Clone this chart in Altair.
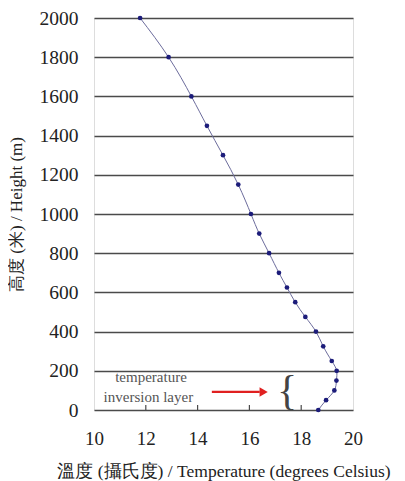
import altair as alt
import pandas as pd

temps = [18.66, 18.96, 19.28, 19.36, 19.37, 19.18, 18.85, 18.57, 18.16, 17.77, 17.45,
         17.14, 16.76, 16.38, 16.06, 15.57, 14.98, 14.36, 13.76, 12.88, 11.78]
heights = [0, 50, 100, 150, 200, 250, 325, 400, 475, 550, 625,
           700, 800, 900, 1000, 1150, 1300, 1450, 1600, 1800, 2000]

x_ticks = [10, 12, 14, 16, 18, 20]
y_ticks = [0, 200, 400, 600, 800, 1000, 1200, 1400, 1600, 1800, 2000]

label_lines = ["temperature", "inversion  layer"]
label_x = [12.2, 12.1]
label_y = [168, 66]

arrow_x = [14.55]
arrow_x2 = [16.4]
arrow_head_x = [16.55]
arrow_y = [92]
brace_x = [17.45]
brace_y = [97]

x_title = "溫度 (攝氏度) / Temperature (degrees Celsius)"
y_title = "高度 (米) / Height (m)"

FONT = "Liberation Serif"
GRID = "#4a4a4a"

df = pd.DataFrame({"t": temps, "h": heights})

xs = alt.Scale(domain=[10, 20], nice=False)
ys = alt.Scale(domain=[0, 2000], nice=False)

x_axis = alt.Axis(values=x_ticks, grid=False, ticks=False, domain=False,
                  format="d", labelOverlap=False, labelFlush=False,
                  labelFont=FONT, labelFontSize=19, labelColor="#222",
                  labelPadding=19, title=x_title, titleFont=FONT,
                  titleFontSize=17.5, titleFontWeight="normal", titleColor="#222",
                  titlePadding=14)
y_axis = alt.Axis(values=y_ticks, grid=True, gridColor=GRID, gridWidth=1.5,
                  format="d", labelOverlap=False, labelFlush=False,
                  ticks=False, domain=False, labelFont=FONT, labelFontSize=19.5,
                  labelColor="#222", labelPadding=16, title=y_title,
                  titleFont=FONT, titleFontSize=17, titleFontWeight="normal",
                  titleColor="#222", titlePadding=14)


def X(field):
    return alt.X(field, type="quantitative", scale=xs, axis=x_axis)


def Y(field):
    return alt.Y(field, type="quantitative", scale=ys, axis=y_axis)


base = alt.Chart(df)

line = base.mark_line(color="#6c6c9c", strokeWidth=1, interpolate="natural").encode(
    x=X("t"), y=Y("h"), order="h:Q",
)
pts = base.mark_circle(color="#1c1c7a", size=22, opacity=1).encode(
    x=X("t"), y=Y("h")
)

ticks_df = pd.DataFrame({"t": x_ticks[1:-1]})
inner_ticks = alt.Chart(ticks_df).mark_rule(color=GRID, strokeWidth=1.2).encode(
    x=X("t"), y=alt.value(392), y2=alt.value(387)
)

lab_df = pd.DataFrame({"txt": label_lines, "x": label_x, "y": label_y})
labels = alt.Chart(lab_df).mark_text(font=FONT, fontSize=15, color="#555").encode(
    x=X("x"), y=Y("y"), text="txt:N"
)

arr_df = pd.DataFrame({"x": arrow_x, "x2": arrow_x2, "xh": arrow_head_x, "y": arrow_y})
arrow = alt.Chart(arr_df).mark_rule(color="#e02020", strokeWidth=2.2).encode(
    x=X("x"), x2="x2:Q", y=Y("y")
)
head = alt.Chart(arr_df).mark_point(shape="triangle-right", filled=True,
                                    color="#e02020", size=90, opacity=1).encode(
    x=X("xh"), y=Y("y")
)

br_df = pd.DataFrame({"x": brace_x, "y": brace_y, "txt": ["{"]})
brace = alt.Chart(br_df).mark_text(font=FONT, fontSize=42,
                                   color="#444", baseline="middle").encode(
    x=X("x"), y=Y("y"), text="txt:N"
)

chart = alt.layer(line, pts, inner_ticks, labels, arrow, head, brace).properties(
    width=259, height=392,
    autosize=alt.AutoSizeParams(type="none"),
    padding={"left": 86, "top": 10, "right": 44, "bottom": 71},
).configure_view(stroke=GRID, strokeWidth=1.5).configure(background="white")

chart.save("out.html", embed_options={"renderer": "svg", "actions": False})
